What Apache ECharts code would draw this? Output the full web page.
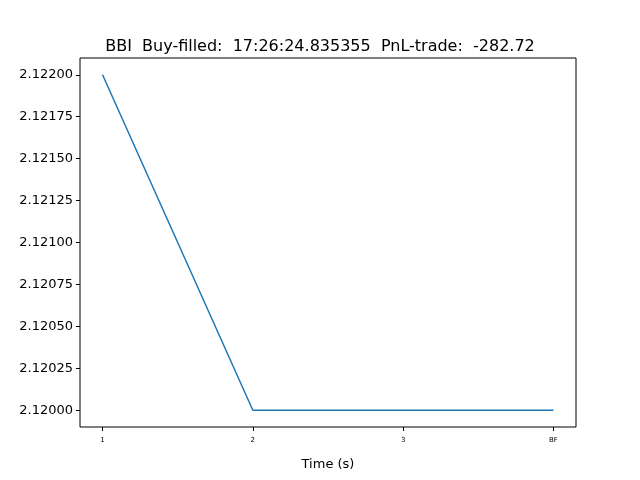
<html><head><script src="https://cdn.jsdelivr.net/npm/echarts@6/dist/echarts.min.js"></script></head>
<body style="margin:0"><div id="c" style="width:640px;height:480px"></div>
<script>
const categories = ["1","2","3","BF"];
const xPositions = [1,2,3,4];
const prices = [2.122, 2.12, 2.12, 2.12];
const yTicks = [2.12, 2.12025, 2.1205, 2.12075, 2.121, 2.12125, 2.1215, 2.12175, 2.122];
const chart = echarts.init(document.getElementById('c'));
chart.setOption({
  animation:false,
  title:{text:'BBI  Buy-filled:  17:26:24.835355  PnL-trade:  -282.72',left:'center',top:26,textStyle:{fontSize:16,fontWeight:'normal',color:'#000',fontFamily:'DejaVu Sans'}},
  grid:{left:80,right:64,top:58,bottom:53,show:true,borderColor:'#000',borderWidth:1,containLabel:false,outerBoundsMode:'none'},
  xAxis:{type:'value',min:0.85,max:4.15,name:'Time (s)',nameLocation:'middle',nameGap:21,
    nameTextStyle:{fontSize:13,color:'#000',fontFamily:'DejaVu Sans'},
    axisLine:{show:false},splitLine:{show:false},
    axisTick:{customValues:xPositions,length:4,lineStyle:{color:'#000'}},
    axisLabel:{customValues:xPositions,formatter:v=>categories[Math.round(v)-1],fontSize:7,color:'#000',margin:6,fontFamily:'DejaVu Sans'}},
  yAxis:{type:'value',min:2.1199,max:2.1221,name:'Price',nameLocation:'middle',nameGap:70,
    nameTextStyle:{fontSize:13,color:'#000',fontFamily:'DejaVu Sans'},
    axisLine:{show:false},splitLine:{show:false},
    axisTick:{customValues:yTicks,length:4,lineStyle:{color:'#000'}},
    axisLabel:{customValues:yTicks,formatter:v=>v.toFixed(5),fontSize:13,color:'#000',margin:7,fontFamily:'DejaVu Sans'}},
  series:[{type:'line',data:xPositions.map((x,i)=>[x,prices[i]]),showSymbol:false,lineStyle:{color:'#1f77b4',width:1.5}}]
});
</script></body></html>
